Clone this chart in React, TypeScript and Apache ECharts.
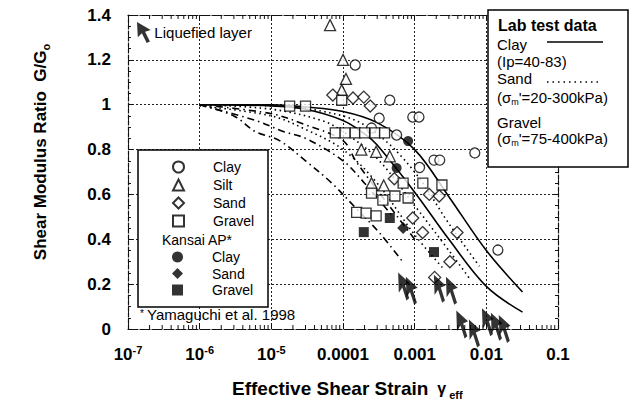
import React, { useEffect, useRef } from 'react';
import * as echarts from 'echarts';

// ---- axis ticks ----
const xTickValues = [1e-7, 1e-6, 1e-5, 1e-4, 1e-3, 1e-2, 1e-1];
const xTickLabels = ['10^-7', '10^-6', '10^-5', '0.0001', '0.001', '0.01', '0.1'];
const yTickValues = [0, 0.2, 0.4, 0.6, 0.8, 1, 1.2, 1.4];
const xMinorMultipliers = [2, 3, 4, 5, 6, 7, 8, 9];

// ---- field data (strain, G/G0) ----
const clayData = [
  [1.48e-4, 1.177], [4.5e-4, 1.02], [9.4e-4, 0.945], [1.15e-3, 0.945], [5.6e-4, 0.865],
  [6.9e-3, 0.785], [1.86e-3, 0.753], [2.24e-3, 0.753], [1.17e-3, 0.72], [1.45e-2, 0.352],
  [2.5e-4, 0.896], [3.2e-4, 0.94],
];
const siltData = [
  [6.6e-5, 1.355], [1.0e-4, 1.2], [1.1e-4, 1.115], [9.6e-5, 1.065], [1.8e-4, 0.8],
  [2.9e-4, 0.79], [4.5e-4, 0.77], [2.5e-4, 0.65], [3.7e-4, 0.64],
];
const sandData = [
  [7.2e-5, 1.043], [1.38e-4, 1.03], [1.95e-4, 1.034], [2.4e-4, 0.994], [1.6e-3, 0.6],
  [1.29e-3, 0.43], [3.9e-3, 0.43], [3.1e-3, 0.3], [1.9e-3, 0.23], [9.4e-4, 0.495],
  [2.2e-3, 0.593], [5.2e-4, 0.67],
];
const gravelData = [
  [1.8e-5, 0.994], [3.0e-5, 0.994], [9.6e-5, 1.02], [7.8e-5, 0.874], [1.07e-4, 0.874],
  [1.48e-4, 0.874], [2.0e-4, 0.874], [2.8e-4, 0.874], [3.8e-4, 0.874], [2.5e-4, 0.606],
  [3.6e-4, 0.575], [5.3e-4, 0.593], [1.55e-4, 0.52], [2.1e-4, 0.517], [2.9e-4, 0.504],
  [6.9e-4, 0.65], [1.3e-3, 0.65], [2.4e-3, 0.642], [8.1e-4, 0.584],
];
const kansaiClayData = [[8.1e-4, 0.838], [5.6e-4, 0.718]];
const kansaiSandData = [[6.9e-4, 0.45]];
const kansaiGravelData = [[4.5e-4, 0.495], [1.95e-4, 0.432], [1.86e-3, 0.343]];
const liquefiedData = [
  [7.1e-4, 0.19], [9.1e-4, 0.17], [2.24e-3, 0.18], [3.3e-3, 0.17], [4.6e-3, 0.02],
  [6.9e-3, -0.02], [1.05e-2, 0.03], [1.4e-2, 0.01], [1.8e-2, 0.0],
];

// ---- lab test curves ----
const labClayUpper = [[1e-6, 1], [1e-5, 1], [3e-5, 0.99], [1e-4, 0.97], [3e-4, 0.92], [1e-3, 0.8], [3e-3, 0.59], [1e-2, 0.35], [3.2e-2, 0.165]];
const labClayLower = [[1e-6, 1], [1e-5, 0.995], [3e-5, 0.98], [1e-4, 0.93], [2e-4, 0.87], [3e-4, 0.82], [1e-3, 0.61], [3e-3, 0.4], [1e-2, 0.19], [3.2e-2, 0.075]];
const labSand1 = [[1e-6, 1], [1e-5, 0.995], [1e-4, 0.95], [3e-4, 0.87], [1e-3, 0.7], [3e-3, 0.47], [8e-3, 0.28]];
const labSand2 = [[1e-6, 1], [1e-5, 0.98], [5e-5, 0.93], [1e-4, 0.88], [3e-4, 0.76], [1e-3, 0.55], [3e-3, 0.35], [6e-3, 0.22]];
const labSand3 = [[1e-6, 0.995], [1e-5, 0.95], [3e-5, 0.89], [1e-4, 0.8], [3e-4, 0.65], [1e-3, 0.42], [2.5e-3, 0.27]];
const labGravel1 = [[1e-6, 1], [1e-5, 0.96], [3e-5, 0.91], [1e-4, 0.84], [1.5e-4, 0.75], [3e-4, 0.62], [1e-3, 0.4]];
const labGravel2 = [[1e-6, 1], [6e-6, 0.93], [1.5e-5, 0.88], [3e-5, 0.85], [1e-4, 0.75], [2e-4, 0.65], [5e-4, 0.5]];
const labGravel3 = [[1e-6, 1], [3e-6, 0.95], [6e-6, 0.88], [1.3e-5, 0.84], [3e-5, 0.75], [7e-5, 0.65], [1.5e-4, 0.54], [3.2e-4, 0.43], [6.8e-4, 0.3]];

const FONT = '"Liberation Sans", Arial, Helvetica, sans-serif';
const ARROW = 'path://M0,0 L1,19 L6,14 L12,26 L16,24 L10,12 L17,10 Z';

export default function App() {
  const ref = useRef<HTMLDivElement>(null);
  useEffect(() => {
    document.body.style.margin = '0';
    if (!ref.current) return;
    const chart = echarts.init(ref.current, undefined, { renderer: 'svg' });

    const frameStyle = { color: '#111', width: 1.2, type: [4, 2] as any };
    const gridStyle = { color: '#222', width: 1, type: [2, 2] as any };
    const minorX: number[][] = [];
    for (let d = -7; d <= -2; d++) {
      for (const m of xMinorMultipliers) minorX.push([m * Math.pow(10, d), 0]);
    }

    const xFormatter = (v: number) => {
      const idx = xTickValues.findIndex((t) => Math.abs(Math.log10(t) - Math.log10(v)) < 1e-6);
      const lab = idx >= 0 ? xTickLabels[idx] : '';
      if (lab.includes('^')) {
        const [b, s] = lab.split('^');
        return `{b|${b}}{s|${s}}`;
      }
      return `{b|${lab}}`;
    };

    const openStyle = { color: '#fff', borderColor: '#000', borderWidth: 1.3 };
    const filledStyle = { color: '#000' };
    const labLine = (data: number[][], type: any, width: number, name: string) => ({
      type: 'line', name, data, smooth: 0.35, showSymbol: false, symbol: 'none', z: 2,
      lineStyle: { color: '#000', width, type },
    });
    const scatter = (name: string, data: number[][], symbol: string, size: number, style: any) => ({
      type: 'scatter', name, data, symbol, symbolSize: size, itemStyle: style, z: 3,
    });

    const txt = (x: number, y: number, text: string, extra: any = {}) => ({
      type: 'text', x, y, z: 12,
      style: { text, fontFamily: FONT, fontSize: 15, fill: '#000', verticalAlign: 'middle', ...extra },
    });

    const option: any = {
      animation: false,
      backgroundColor: '#fff',
      textStyle: { fontFamily: FONT },
      grid: { left: 128, top: 15, right: 78, bottom: 89, containLabel: false },
      xAxis: [
        {
          type: 'log', logBase: 10, min: 1e-7, max: 0.1, position: 'bottom',
          axisLine: { show: true, onZero: false, lineStyle: frameStyle },
          axisTick: { show: true, inside: true, length: 6, lineStyle: { color: '#111' } },
          axisLabel: {
            margin: 15, formatter: xFormatter, color: '#000',
            rich: {
              b: { fontSize: 17, fontWeight: 'bold', fontFamily: FONT, lineHeight: 20, verticalAlign: 'middle', color: '#000' },
              s: { fontSize: 11, fontWeight: 'bold', fontFamily: FONT, lineHeight: 11, verticalAlign: 'top', color: '#000' },
            },
          },
          splitLine: { show: true, lineStyle: gridStyle },
        },
        {
          type: 'log', logBase: 10, min: 1e-7, max: 0.1, position: 'top',
          axisLine: { show: true, onZero: false, lineStyle: frameStyle },
          axisTick: { show: true, inside: true, length: 6, lineStyle: { color: '#111' } },
          axisLabel: { show: false }, splitLine: { show: false },
        },
      ],
      yAxis: [
        {
          type: 'value', min: 0, max: 1.4, interval: 0.2, position: 'left',
          axisLine: { show: true, onZero: false, lineStyle: frameStyle },
          axisTick: { show: true, inside: true, length: 5, lineStyle: { color: '#111' } },
          minorTick: { show: true, splitNumber: 4, length: 3, lineStyle: { color: '#111' } },
          axisLabel: {
            margin: 17, fontSize: 17, fontWeight: 'bold', color: '#000', fontFamily: FONT,
            formatter: (v: number) => {
              const i = yTickValues.findIndex((t) => Math.abs(t - v) < 1e-6);
              return i >= 0 ? String(yTickValues[i]) : '';
            },
          },
          splitLine: { show: true, lineStyle: gridStyle },
        },
        {
          type: 'value', min: 0, max: 1.4, interval: 0.2, position: 'right',
          axisLine: { show: true, onZero: false, lineStyle: frameStyle },
          axisTick: { show: true, inside: true, length: 5, lineStyle: { color: '#111' } },
          minorTick: { show: true, splitNumber: 4, length: 3, lineStyle: { color: '#111' } },
          axisLabel: { show: false }, splitLine: { show: false },
        },
      ],
      legend: [
        {
          data: ['Liquefied layer'], left: 137, top: 22, padding: 0, selectedMode: false,
          itemWidth: 15, itemHeight: 21, icon: ARROW,
          textStyle: { fontSize: 15, fontFamily: FONT, color: '#000', padding: [0, 0, 0, -2] },
          z: 12,
        },
        {
          data: ['Clay', 'Silt', 'Sand', 'Gravel'], orient: 'vertical', left: 172, top: 160,
          padding: 0, itemGap: 4, itemWidth: 11, itemHeight: 11, selectedMode: false,
          textStyle: { fontSize: 14, fontFamily: FONT, color: '#000', lineHeight: 14, padding: [0, 0, 0, 24] },
          z: 12,
        },
        {
          data: ['Kansai Clay', 'Kansai Sand', 'Kansai Gravel'], orient: 'vertical', left: 172, top: 250,
          padding: 0, itemGap: 2.5, itemWidth: 11, itemHeight: 11, selectedMode: false,
          formatter: (n: string) => n.replace('Kansai ', ''),
          textStyle: { fontSize: 14, fontFamily: FONT, color: '#000', lineHeight: 14, padding: [0, 0, 0, 24] },
          z: 12,
        },
      ],
      series: [
        labLine(labClayUpper, 'solid', 1.6, 'Lab Clay upper'),
        labLine(labClayLower, 'solid', 1.6, 'Lab Clay lower'),
        labLine(labSand1, [1.5, 3.5], 1.6, 'Lab Sand 1'),
        labLine(labSand2, [1.5, 3.5], 1.6, 'Lab Sand 2'),
        labLine(labSand3, [1.5, 3.5], 1.6, 'Lab Sand 3'),
        labLine(labGravel1, [7, 4, 1.5, 4], 1.6, 'Lab Gravel 1'),
        labLine(labGravel2, [7, 4, 1.5, 4], 1.6, 'Lab Gravel 2'),
        labLine(labGravel3, [7, 4, 1.5, 4], 1.6, 'Lab Gravel 3'),
        scatter('Clay', clayData, 'circle', 10, openStyle),
        scatter('Silt', siltData, 'triangle', 11, openStyle),
        scatter('Sand', sandData, 'diamond', 12, openStyle),
        scatter('Gravel', gravelData, 'rect', 10, openStyle),
        scatter('Kansai Clay', kansaiClayData, 'circle', 10, filledStyle),
        scatter('Kansai Sand', kansaiSandData, 'diamond', 12, filledStyle),
        scatter('Kansai Gravel', kansaiGravelData, 'rect', 10, filledStyle),
        {
          type: 'scatter', name: 'Liquefied layer', data: liquefiedData, symbol: ARROW,
          symbolSize: [18, 28], symbolKeepAspect: true, itemStyle: { color: '#000' }, z: 4, clip: false,
        },
        {
          type: 'custom', name: 'minor x ticks', data: minorX, z: 1, silent: true,
          renderItem: (_p: any, api: any) => {
            const x = api.value(0);
            const b = api.coord([x, 0]);
            const t = api.coord([x, 1.4]);
            const st = { stroke: '#111', lineWidth: 1 };
            return {
              type: 'group',
              children: [
                { type: 'line', shape: { x1: b[0], y1: b[1], x2: b[0], y2: b[1] - 4 }, style: st },
                { type: 'line', shape: { x1: t[0], y1: t[1], x2: t[0], y2: t[1] + 4 }, style: st },
              ],
            };
          },
        },
      ],
      graphic: [
        // inner legend box
        { type: 'rect', z: 10, shape: { x: 138, y: 150, width: 130, height: 157 }, style: { fill: '#fff', stroke: '#000', lineWidth: 1.5 } },
        txt(162, 240, 'Kansai AP*', { fontSize: 14 }),
        txt(140, 313, '*', { fontSize: 10 }),
        txt(147, 314, 'Yamaguchi et al. 1998', { fontSize: 15 }),
        // lab test data box
        { type: 'rect', z: 11, shape: { x: 488, y: 10, width: 140, height: 157 }, style: { fill: '#fff', stroke: '#000', lineWidth: 1.5 } },
        txt(498, 25, 'Lab test data', { fontSize: 16, fontWeight: 'bold' }),
        txt(497, 44, 'Clay'),
        { type: 'line', z: 12, shape: { x1: 547, y1: 42, x2: 603, y2: 42 }, style: { stroke: '#000', lineWidth: 1.5 } },
        txt(497, 61, '(Ip=40-83)', { fontSize: 15 }),
        txt(497, 78, 'Sand'),
        { type: 'line', z: 12, shape: { x1: 547, y1: 82, x2: 601, y2: 82 }, style: { stroke: '#000', lineWidth: 1.5, lineDash: [1.5, 4] } },
        {
          type: 'text', x: 497, y: 97, z: 12,
          style: {
            text: "{a|(σ}{s|m}{a|'=20-300kPa)}", verticalAlign: 'middle', fill: '#000',
            rich: {
              a: { fontSize: 15, fontFamily: FONT, lineHeight: 18, verticalAlign: 'middle' },
              s: { fontSize: 9, fontFamily: FONT, lineHeight: 9, verticalAlign: 'bottom' },
            },
          },
        },
        txt(497, 122, 'Gravel'),
        {
          type: 'text', x: 497, y: 138, z: 12,
          style: {
            text: "{a|(σ}{s|m}{a|'=75-400kPa)}", verticalAlign: 'middle', fill: '#000',
            rich: {
              a: { fontSize: 15, fontFamily: FONT, lineHeight: 18, verticalAlign: 'middle' },
              s: { fontSize: 9, fontFamily: FONT, lineHeight: 9, verticalAlign: 'bottom' },
            },
          },
        },
        // axis titles
        {
          type: 'text', x: 40, y: 152, z: 12, rotation: Math.PI / 2,
          style: {
            text: '{a|Shear Modulus Ratio  G/G}{s|o}', align: 'center', verticalAlign: 'middle', fill: '#000',
            rich: {
              a: { fontSize: 17, fontWeight: 'bold', fontFamily: FONT, lineHeight: 22, verticalAlign: 'middle' },
              s: { fontSize: 11, fontWeight: 'bold', fontFamily: FONT, lineHeight: 11, verticalAlign: 'bottom' },
            },
          },
        },
        {
          type: 'text', x: 232, y: 388, z: 12,
          style: {
            text: '{a|Effective Shear Strain}{g|  γ}{s| eff}', verticalAlign: 'middle', fill: '#000',
            rich: {
              a: { fontSize: 19, fontWeight: 'bold', fontFamily: FONT, lineHeight: 24, verticalAlign: 'middle' },
              g: { fontSize: 16, fontWeight: 'bold', fontFamily: FONT, lineHeight: 24, verticalAlign: 'middle' },
              s: { fontSize: 11, fontWeight: 'bold', fontFamily: FONT, lineHeight: 11, verticalAlign: 'bottom' },
            },
          },
        },
      ],
    };
    chart.setOption(option);
    return () => chart.dispose();
  }, []);
  return <div ref={ref} style={{ width: 636, height: 418 }} />;
}
